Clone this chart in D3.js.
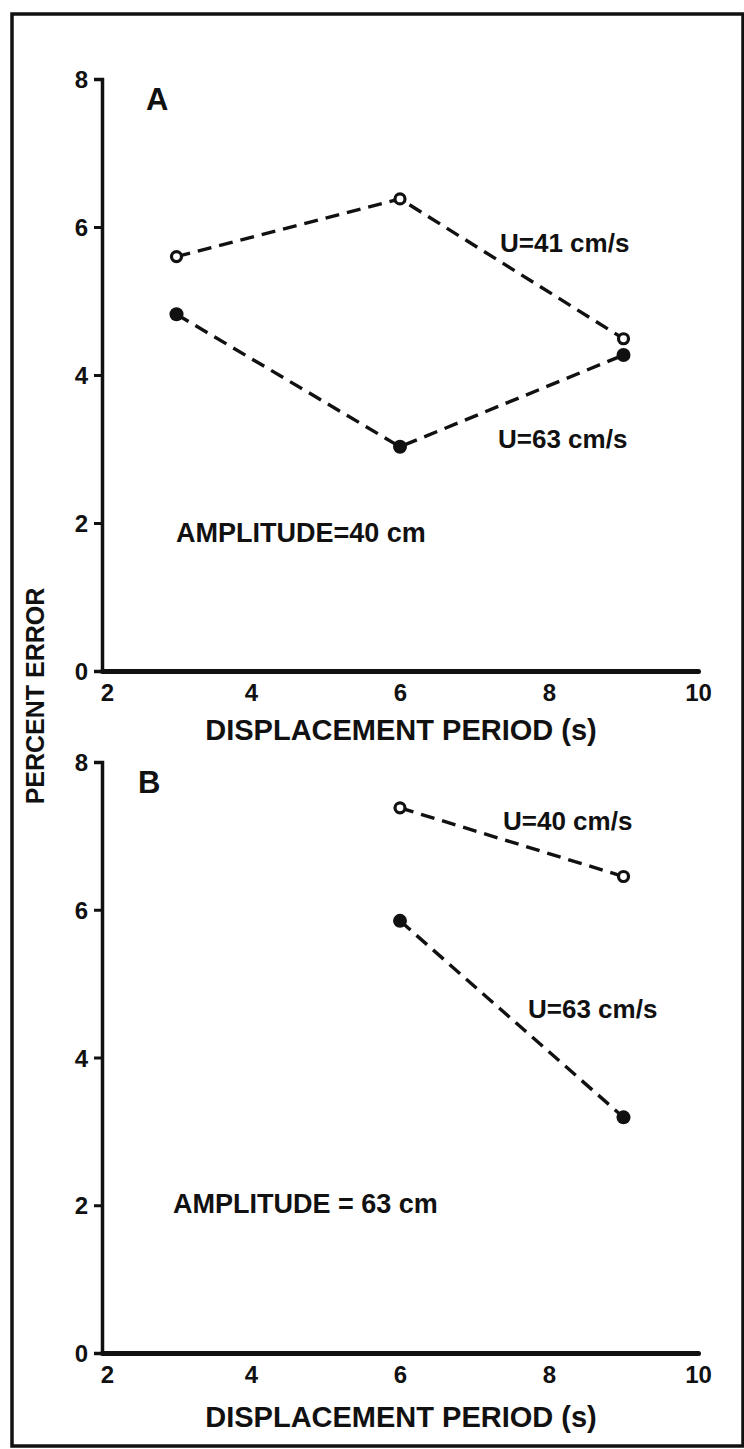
<!DOCTYPE html>
<html>
<head>
<meta charset="utf-8">
<script src="https://cdn.jsdelivr.net/npm/d3@7"></script>
<style>
body{ margin:0; background:#fff; }
svg{ display:block; font-family:"Liberation Sans", Arial, sans-serif; font-weight:bold; }
</style>
</head>
<body>
<svg id="chart" width="744" height="1449"></svg>
<script>
// values
var xTicks = [2, 4, 6, 8, 10]
var yTicks = [0, 2, 4, 6, 8]
var periodsA = [3, 6, 9]
var errA41 = [5.6, 6.38, 4.49]   // open circles, U=41 cm/s
var errA63 = [4.82, 3.03, 4.27]  // filled circles, U=63 cm/s
var periodsB = [6, 9]
var errB40 = [7.38, 6.45]        // open circles, U=40 cm/s
var errB63 = [5.85, 3.19]        // filled circles, U=63 cm/s

var svg = d3.select('#chart')
svg.append('rect').attr('width', 744).attr('height', 1449).attr('fill', '#fff')
// frame round the whole figure
svg.append('rect').attr('x', 12).attr('y', 14).attr('width', 731).attr('height', 1432)
  .attr('fill', 'none').attr('stroke', '#111').attr('stroke-width', 3.5)

var x = d3.scaleLinear().domain([2, 10]).range([102, 698])

function panel(top, bottom, letter, letterX, series, notes, ampText, ampPos, titleDy){
  var y = d3.scaleLinear().domain([0, 8]).range([bottom, top])
  var g = svg.append('g')

  var ya = g.append('g').attr('transform', 'translate(' + x(2) + ',0)')
    .call(d3.axisLeft(y).tickValues(yTicks).tickSizeInner(8).tickSizeOuter(8).tickPadding(6).tickFormat(d3.format('d')))
  ya.attr('font-size', null).attr('font-family', null)
  ya.select('.domain').attr('stroke', '#111').attr('stroke-width', 3.5)
  ya.selectAll('.tick line').attr('stroke', '#111').attr('stroke-width', 3)
  ya.selectAll('text').attr('fill', '#111').style('font-size', '24px').attr('dy', '0.36em')

  var xa = g.append('g').attr('transform', 'translate(0,' + bottom + ')')
    .call(d3.axisBottom(x).tickValues(xTicks).tickSize(0).tickPadding(13).tickFormat(d3.format('d')))
  xa.attr('font-size', null).attr('font-family', null)
  xa.select('.domain').attr('stroke', '#111').attr('stroke-width', 5).attr('stroke-linecap', 'round')
  xa.selectAll('text').attr('fill', '#111').style('font-size', '24px')
    .attr('dx', function(d){ return d === 2 ? 5 : 0 })

  g.append('text').attr('x', 401).attr('y', bottom + titleDy).attr('text-anchor', 'middle')
    .attr('font-size', 29).attr('fill', '#111').text('DISPLACEMENT PERIOD (s)')

  g.append('text').attr('x', letterX).attr('y', top + 31).attr('font-size', 31)
    .attr('fill', '#111').text(letter)

  var line = d3.line().x(function(d){ return x(d[0]) }).y(function(d){ return y(d[1]) })
  series.forEach(function(s){
    var pts = d3.zip(s.xs, s.ys)
    g.append('path').attr('d', line(pts)).attr('fill', 'none').attr('stroke', '#111')
      .attr('stroke-width', 3.4).attr('stroke-dasharray', '14,8')
    g.selectAll(null).data(pts).enter().append('circle')
      .attr('cx', function(d){ return x(d[0]) }).attr('cy', function(d){ return y(d[1]) })
      .attr('r', s.open ? 5 : 7)
      .attr('fill', s.open ? '#fff' : '#111')
      .attr('stroke', '#111').attr('stroke-width', s.open ? 3.2 : 0)
  })

  notes.forEach(function(n){
    g.append('text').attr('x', n.x).attr('y', n.y).attr('font-size', 26)
      .attr('fill', '#111').text(n.t)
  })
  g.append('text').attr('x', ampPos[0]).attr('y', ampPos[1]).attr('font-size', 27)
    .attr('fill', '#111').text(ampText)
}

panel(79, 671, 'A', 146,
  [{xs: periodsA, ys: errA41, open: true}, {xs: periodsA, ys: errA63, open: false}],
  [{x: 500, y: 252, t: 'U=41 cm/s'}, {x: 498, y: 448, t: 'U=63 cm/s'}],
  'AMPLITUDE=40 cm', [176, 542], 69)

panel(762, 1353, 'B', 138,
  [{xs: periodsB, ys: errB40, open: true}, {xs: periodsB, ys: errB63, open: false}],
  [{x: 503, y: 830, t: 'U=40 cm/s'}, {x: 528, y: 1018, t: 'U=63 cm/s'}],
  'AMPLITUDE = 63 cm', [173, 1213], 74)

// shared y title between the panels
svg.append('text').attr('transform', 'translate(44,696) rotate(-90)').attr('text-anchor', 'middle')
  .attr('font-size', 25).attr('fill', '#111').text('PERCENT ERROR')
</script>
</body>
</html>
